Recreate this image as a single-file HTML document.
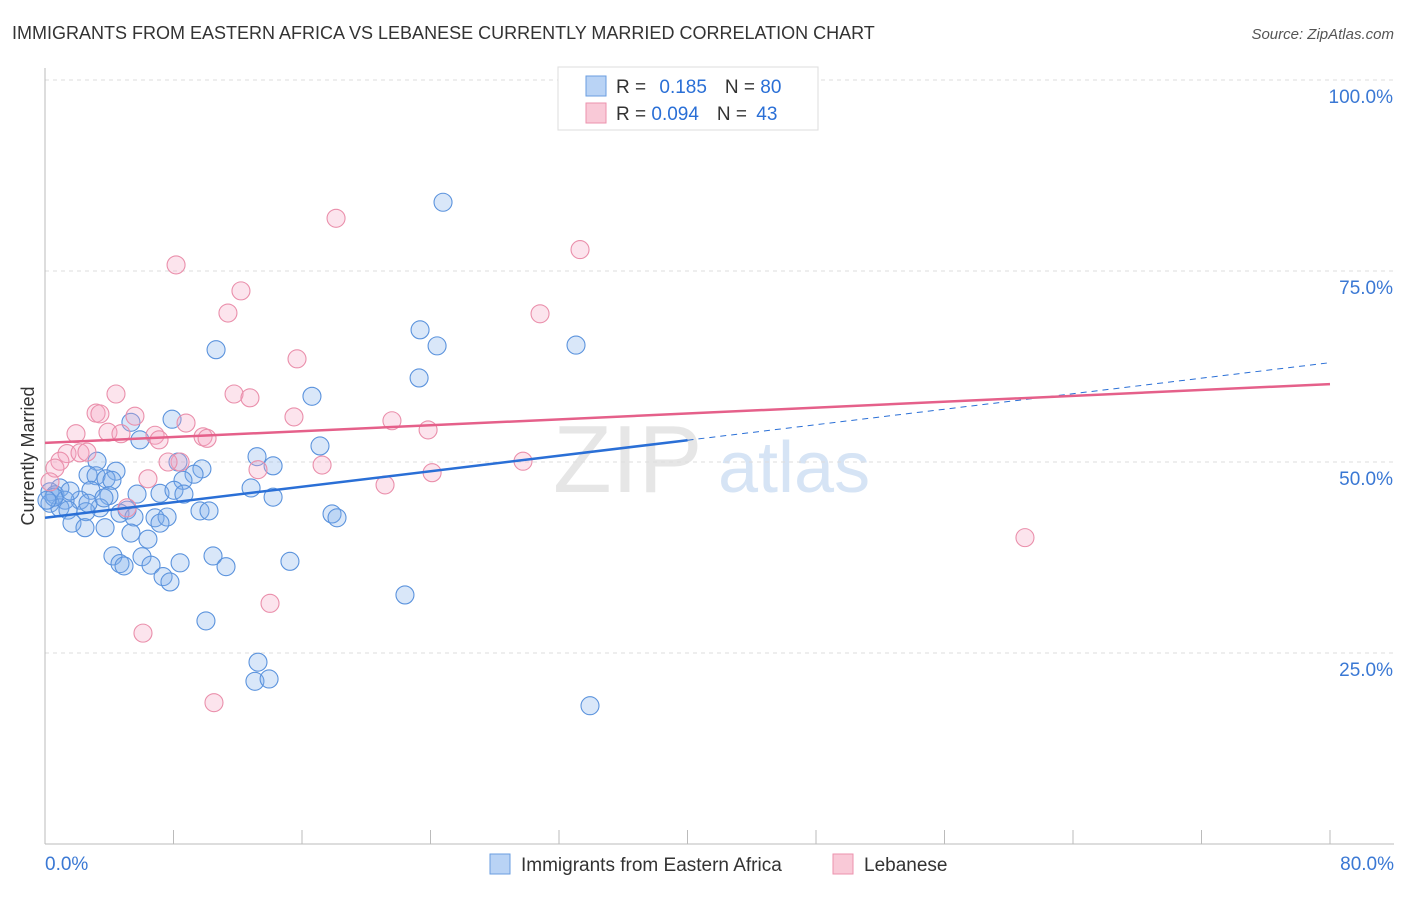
<!DOCTYPE html>
<html><head><meta charset="utf-8"><style>
body{margin:0;background:#fff;font-family:"Liberation Sans",sans-serif}
svg text{font-family:"Liberation Sans",sans-serif}
</style></head><body>
<svg id="chart" width="1406" height="892">
<text x="12" y="39" font-size="18" fill="#333">IMMIGRANTS FROM EASTERN AFRICA VS LEBANESE CURRENTLY MARRIED CORRELATION CHART</text>
<text x="1394" y="39" font-size="15" fill="#555" text-anchor="end" font-style="italic">Source: ZipAtlas.com</text>
<text x="553" y="492" font-size="96" fill="#e6e6e6" font-family="Liberation Serif">ZIP</text>
<text x="718" y="492" font-size="72" fill="#d6e4f5">atlas</text>
<g id="grid"></g>
<g id="axes"></g>
<g id="marks"></g>
<text transform="translate(34,456) rotate(-90)" font-size="18" fill="#333" text-anchor="middle">Currently Married</text>
<g>
<rect x="558" y="67" width="260" height="63" fill="#fff" stroke="#ddd"/>
<rect x="586" y="76" width="20" height="20" fill="#b9d3f5" stroke="#6a9ee0"/>
<rect x="586" y="103" width="20" height="20" fill="#f9c9d7" stroke="#ec92ae"/>
<text x="616" y="93" font-size="19" fill="#333">R = <tspan fill="#2a6fd6" dx="8">0.185</tspan><tspan dx="18" fill="#333">N = </tspan><tspan fill="#2a6fd6">80</tspan></text>
<text x="616" y="120" font-size="19" fill="#333">R = <tspan fill="#2a6fd6">0.094</tspan><tspan dx="18" fill="#333">N = </tspan><tspan fill="#2a6fd6" dx="4">43</tspan></text>
</g>
<g>
<rect x="490" y="854" width="20" height="20" fill="#b9d3f5" stroke="#6a9ee0"/>
<text x="521" y="871" font-size="19" fill="#333">Immigrants from Eastern Africa</text>
<rect x="833" y="854" width="20" height="20" fill="#f9c9d7" stroke="#ec92ae"/>
<text x="864" y="871" font-size="19" fill="#333">Lebanese</text>
</g>
</svg>
<script>
const blueX=[24.78,23.35,24.41,33.06,10.65,23.29,16.62,5.35,7.91,5.91,17.12,13.20,8.28,14.20,3.24,9.77,4.42,2.68,9.28,3.18,3.80,4.17,8.59,12.83,2.86,0.93,0.31,0.62,7.16,8.03,8.65,5.73,3.98,2.18,14.20,1.25,0.31,0.93,3.42,1.43,2.55,5.11,9.65,10.21,17.87,18.18,4.67,5.54,6.85,7.60,7.16,1.68,2.49,3.74,5.35,6.41,4.23,6.04,10.46,4.67,4.92,6.60,8.41,15.25,11.27,7.35,7.78,22.41,10.02,13.26,13.07,13.95,33.93,0.56,0.12,1.56,2.68,3.67];
const blueY=[84.0,67.3,65.2,65.3,64.7,61.0,58.6,55.2,55.6,52.9,52.1,50.7,50.0,49.5,50.1,49.1,48.8,48.3,48.4,48.2,47.8,47.6,47.6,46.6,46.3,46.6,46.1,45.7,45.9,46.3,45.8,45.8,45.6,45.0,45.4,45.0,44.6,44.0,44.0,43.7,43.5,43.7,43.6,43.6,43.2,42.7,43.3,42.8,42.7,42.8,42.0,42.0,41.4,41.4,40.7,39.9,37.7,37.6,37.7,36.7,36.4,36.5,36.8,37.0,36.3,35.0,34.3,32.6,29.2,23.8,21.3,21.6,18.1,45.4,45.0,46.2,44.6,45.3];
const pinkX=[18.12,33.31,8.16,12.20,11.39,30.82,15.69,4.42,11.77,12.76,3.18,3.42,5.60,15.50,8.78,21.60,1.93,3.92,4.73,6.85,7.10,9.84,10.09,23.85,1.37,2.18,2.61,0.93,8.41,7.66,0.62,17.25,29.76,13.26,6.41,24.10,21.17,0.31,5.11,61.01,14.01,6.10,10.52];
const pinkY=[81.9,77.8,75.8,72.4,69.5,69.4,63.5,58.9,58.9,58.4,56.4,56.3,56.0,55.9,55.1,55.4,53.7,53.9,53.7,53.5,52.9,53.3,53.1,54.2,51.1,51.2,51.3,50.1,50.0,50.0,49.2,49.6,50.1,49.0,47.8,48.6,47.0,47.4,44.0,40.1,31.5,27.6,18.5];
const blueTrend=[42.7,63.0];
const pinkTrend=[52.5,60.2];
const yTicks=[25,50,75,100];
const yTickLabels=["25.0%","50.0%","75.0%","100.0%"];
const xLabels=["0.0%","80.0%"];
const NS="http://www.w3.org/2000/svg";
const X=v=>45+v/80*1285, Y=v=>844-v/100*764;
function mk(tag,attrs,parent){const e=document.createElementNS(NS,tag);for(const k in attrs)e.setAttribute(k,attrs[k]);document.getElementById(parent).appendChild(e);return e;}
yTicks.forEach((t,i)=>{
 const g=mk('line',{x1:45,x2:1394,y1:Y(t),y2:Y(t),stroke:'#ddd','stroke-dasharray':'4,4'},'grid');
 
 
 const l=mk('text',{x:1393,y:Y(t)+23,'font-size':19,fill:'#3a78d4','text-anchor':'end'},'axes');
 l.textContent=yTickLabels[i];
 
 
});
const ax=mk('line',{x1:45,x2:45,y1:68,y2:844,stroke:'#bbb'},'axes');


const bx=mk('line',{x1:45,x2:1394,y1:844,y2:844,stroke:'#bbb'},'axes');


for(let i=0;i<=10;i++){const t=mk('line',{x1:X(i*8),x2:X(i*8),y1:830,y2:844,stroke:'#bbb'},'axes');
 
 }
[[0,'start',45],[80,'end',1394]].forEach((d,i)=>{const t=mk('text',{x:d[2],y:870,'font-size':19,fill:'#3a78d4','text-anchor':d[1]},'axes');t.textContent=xLabels[i];
 
 });
blueX.forEach((x,i)=>{const c=mk('circle',{cx:X(x),cy:Y(blueY[i]),r:9,fill:'rgba(130,175,235,0.3)',stroke:'#5b93dd','stroke-width':1.1},'marks');
 
 });
pinkX.forEach((x,i)=>{const c=mk('circle',{cx:X(x),cy:Y(pinkY[i]),r:9,fill:'rgba(245,165,195,0.3)',stroke:'#ea8fab','stroke-width':1.1},'marks');
 
 });
const bAt=v=>blueTrend[0]+(blueTrend[1]-blueTrend[0])*v/80;
const bl=mk('line',{x1:X(0),y1:Y(bAt(0)),x2:X(40),y2:Y(bAt(40)),stroke:'#2a6fd6','stroke-width':2.5},'marks');


const bd=mk('line',{x1:X(40),y1:Y(bAt(40)),x2:X(80),y2:Y(bAt(80)),stroke:'#2a6fd6','stroke-width':1,'stroke-dasharray':'6,5'},'marks');


const pl=mk('line',{x1:X(0),y1:Y(pinkTrend[0]),x2:X(80),y2:Y(pinkTrend[1]),stroke:'#e5608a','stroke-width':2.5},'marks');


</script>
</body></html>
